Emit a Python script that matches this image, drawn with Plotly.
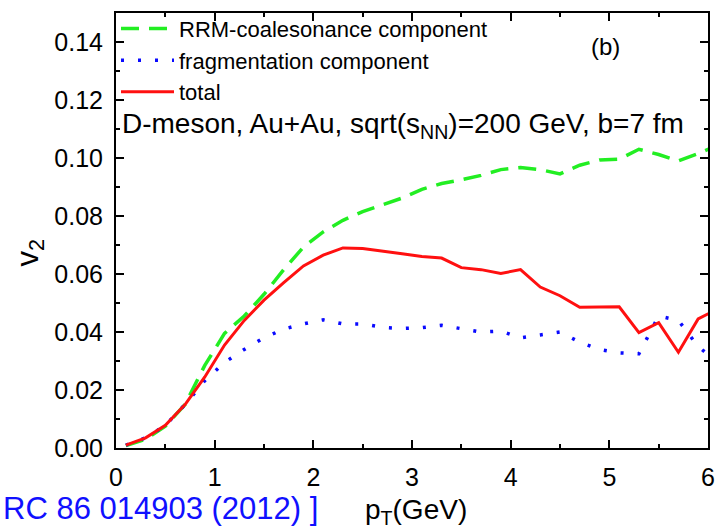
import plotly.graph_objects as go

pt = [0.1, 0.3, 0.5, 0.7, 0.9, 1.1, 1.3, 1.5, 1.7, 1.9, 2.1, 2.3, 2.5, 2.7, 2.9, 3.1,
      3.3, 3.5, 3.7, 3.9, 4.1, 4.3, 4.5, 4.7, 4.9, 5.1, 5.3, 5.5, 5.7, 5.9, 6.1]

v2_coal = [0.0008, 0.003, 0.0075, 0.015, 0.0285, 0.0395, 0.0455, 0.0530, 0.0615, 0.0693,
           0.0745, 0.0785, 0.0815, 0.0840, 0.0862, 0.0892, 0.0912, 0.0925, 0.0940, 0.0960,
           0.0967, 0.0960, 0.0945, 0.0975, 0.0993, 0.0996, 0.1030, 0.1012, 0.0990, 0.1015,
           0.1045]

v2_frag = [0.001, 0.0035, 0.0078, 0.015, 0.0232, 0.0295, 0.0340, 0.0380, 0.0410, 0.0428,
           0.0442, 0.0428, 0.0428, 0.0416, 0.0412, 0.0415, 0.0423, 0.0412, 0.0400, 0.0403,
           0.0380, 0.0390, 0.0400, 0.0365, 0.0340, 0.0328, 0.0325, 0.0455, 0.0440, 0.0350,
           0.0295]

v2_total = [0.001, 0.0035, 0.0078, 0.015, 0.0245, 0.0355, 0.0440, 0.0510, 0.0570, 0.0628,
            0.0665, 0.0690, 0.0688, 0.0680, 0.0670, 0.0660, 0.0655, 0.0622, 0.0615, 0.0602,
            0.0615, 0.0555, 0.0525, 0.0485, 0.0485, 0.0487, 0.0398, 0.0432, 0.0330, 0.0445,
            0.0480]

FONT = "Liberation Sans, Arial, sans-serif"

fig = go.Figure()
fig.add_trace(go.Scatter(x=pt, y=v2_coal, mode="lines", name="RRM-coalesonance component",
                         line=dict(color="#22ee22", width=3.5, dash="18px,10px")))
fig.add_trace(go.Scatter(x=pt, y=v2_frag, mode="lines", name="fragmentation component",
                         line=dict(color="#0a0aff", width=3.5, dash="3px,14px")))
fig.add_trace(go.Scatter(x=pt, y=v2_total, mode="lines", name="total",
                         line=dict(color="#ff1010", width=3)))

axis_common = dict(showline=True, linecolor="black", linewidth=2, mirror="allticks",
                   ticks="inside", ticklen=8, tickwidth=2, tickcolor="black",
                   showgrid=False, zeroline=False,
                   tickfont=dict(family=FONT, size=25, color="black"))

fig.update_xaxes(range=[0, 6], dtick=1, tick0=0, ticklabelstandoff=6,
                 minor=dict(ticks="inside", ticklen=4, tickwidth=2, tickcolor="black", dtick=0.5),
                 **axis_common)
fig.update_yaxes(range=[0, 0.15], dtick=0.02, tick0=0, tickformat=".2f", ticklabelstandoff=6,
                 minor=dict(ticks="inside", ticklen=4, tickwidth=2, tickcolor="black", dtick=0.01),
                 **axis_common)

fig.update_layout(
    width=723, height=532,
    margin=dict(l=116, r=11, t=8, b=84),
    paper_bgcolor="white", plot_bgcolor="white",
    font=dict(family=FONT, color="black"),
    showlegend=True,
    legend=dict(x=0, y=1.012, xanchor="left", yanchor="top", bgcolor="rgba(0,0,0,0)",
                font=dict(family=FONT, size=22, color="black"),
                tracegroupgap=0, itemwidth=53),
    annotations=[
        dict(text="D-meson, Au+Au, sqrt(s<sub>NN</sub>)=200 GeV, b=7 fm", xref="paper", yref="y",
             x=0.006, y=0.1112, xanchor="left", yanchor="middle", showarrow=False,
             font=dict(family=FONT, size=28, color="black")),
        dict(text="(b)", xref="paper", yref="y", x=0.827, y=0.1383, xanchor="center",
             yanchor="middle", showarrow=False, font=dict(family=FONT, size=24, color="black")),
        dict(text="v<sub>2</sub>", xref="paper", yref="paper", x=-0.145, y=0.45, xanchor="center",
             yanchor="middle", textangle=-90, showarrow=False,
             font=dict(family=FONT, size=31, color="black")),
        dict(text="p<sub>T</sub>(GeV)", xref="paper", yref="paper", x=0.507, y=-0.147,
             xanchor="center", yanchor="middle", showarrow=False,
             font=dict(family=FONT, size=28, color="black")),
        dict(text="RC 86 014903 (2012) ]", xref="paper", yref="paper", x=-0.194, y=-0.139,
             xanchor="left", yanchor="middle", showarrow=False,
             font=dict(family=FONT, size=31, color="#1010ff")),
    ],
)

fig.write_html("out.html")
